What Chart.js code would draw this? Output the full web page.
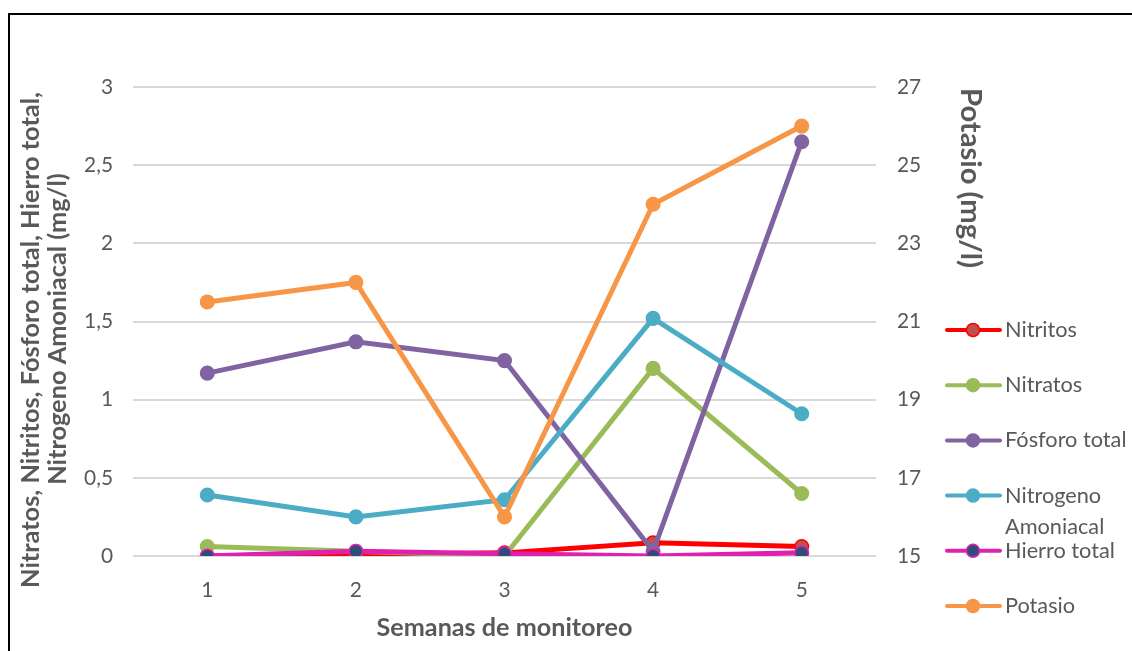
<!DOCTYPE html>
<html><head><meta charset="utf-8">
<script src="https://cdn.jsdelivr.net/npm/chart.js@4.4.0/dist/chart.umd.min.js"></script>
<style>
html,body{margin:0;padding:0;background:#fff;overflow:hidden}
#frame{position:absolute;left:8px;top:13px;width:1200px;height:700px;border:2px solid #000;box-sizing:border-box}
#c{position:absolute;left:0;top:0}
</style></head><body>
<div id="frame"></div>
<canvas id="c" width="1132" height="651"></canvas>
<script>
// ---- data ----
const weeks = ['1', '2', '3', '4', '5'];
const seriesNames = ['Nitritos', 'Nitratos', 'Fósforo total', 'Nitrogeno Amoniacal', 'Hierro total', 'Potasio'];
const nitritos = [0.00, 0.01, 0.02, 0.085, 0.06];
const nitratos = [0.06, 0.03, 0.00, 1.20, 0.40];
const fosforoTotal = [1.17, 1.37, 1.25, 0.03, 2.65];
const nitrogenoAmoniacal = [0.39, 0.25, 0.36, 1.52, 0.91];
const hierroTotal = [0.00, 0.03, 0.015, 0.00, 0.02];
const potasio = [21.5, 22.0, 16.0, 24.0, 26.0];
const leftTicks = [0, 0.5, 1, 1.5, 2, 2.5, 3];
const rightTicks = [15, 17, 19, 21, 23, 25, 27];
const leftTitle = ['Nitratos, Nitritos, Fósforo total, Hierro total,', 'Nitrogeno Amoniacal (mg/l)'];
const rightTitle = 'Potasio (mg/l)';
const xTitle = 'Semanas de monitoreo';

// ---- fonts ----
const FAM = 'Lato, "Open Sans", sans-serif';
const mctx = document.createElement('canvas').getContext('2d');
function fit(text, target, weight) {
  mctx.font = weight + ' 100px ' + FAM;
  return 100 * target / mctx.measureText(text).width;
}
const tickSize = fit('2,5', 29, 'normal');
const legendSize = fit('Nitritos', 72, 'normal');
const titleSize = fit(leftTitle[0], 496, 'bold');
const xTitleSize = fit(xTitle, 256, 'bold');
const rTitleSize = fit(rightTitle, 180, 'bold');
const GREY = '#595959';

// ---- styles ----
const styles = [
  {line: '#FF0000', fill: '#C0504D', border: '#FF0000', order: 5, axis: 'y'},
  {line: '#9BBB59', fill: '#9BBB59', border: '#9BBB59', order: 4, axis: 'y'},
  {line: '#8064A2', fill: '#8064A2', border: '#8064A2', order: 3, axis: 'y'},
  {line: '#4BACC6', fill: '#4BACC6', border: '#4BACC6', order: 2, axis: 'y'},
  {line: '#E020B0', fill: '#2F4D78', border: '#E020B0', order: 1, axis: 'y'},
  {line: '#F79646', fill: '#F79646', border: '#F79646', order: 0, axis: 'y1'}
];
const seriesData = [nitritos, nitratos, fosforoTotal, nitrogenoAmoniacal, hierroTotal, potasio];

const datasets = seriesNames.map((name, i) => ({
  label: name,
  data: seriesData[i],
  yAxisID: styles[i].axis,
  order: styles[i].order,
  borderColor: styles[i].line,
  backgroundColor: styles[i].fill,
  pointBackgroundColor: styles[i].fill,
  pointBorderColor: styles[i].border,
  pointBorderWidth: 1.5,
  pointRadius: 6.8,
  pointHoverRadius: 6.8,
  borderWidth: 5,
  tension: 0,
  fill: false
}));

const decor = {
  id: 'decor',
  afterDraw(chart) {
    const ctx = chart.ctx;
    ctx.save();
    ctx.fillStyle = GREY;
    ctx.textAlign = 'center';
    ctx.textBaseline = 'middle';
    ctx.font = 'bold ' + titleSize + 'px ' + FAM;
    [[31, 340], [58, 329]].forEach(([x, y], i) => {
      ctx.save(); ctx.translate(x, y); ctx.rotate(-Math.PI / 2);
      ctx.fillText(leftTitle[i], 0, 0); ctx.restore();
    });
    ctx.font = 'bold ' + rTitleSize + 'px ' + FAM;
    ctx.save(); ctx.translate(970, 178); ctx.rotate(Math.PI / 2);
    ctx.fillText(rightTitle, 0, 0); ctx.restore();
    ctx.font = 'bold ' + xTitleSize + 'px ' + FAM;
    ctx.fillText(xTitle, (chart.chartArea.left + chart.chartArea.right) / 2, 628);

    // legend
    ctx.font = legendSize + 'px ' + FAM;
    ctx.textAlign = 'left';
    chart.data.datasets.forEach((d, i) => {
      const y = 330 + i * 55.2;
      ctx.strokeStyle = d.borderColor;
      ctx.lineWidth = 4;
      ctx.lineCap = 'round';
      ctx.beginPath(); ctx.moveTo(947, y); ctx.lineTo(1000, y); ctx.stroke();
      ctx.beginPath(); ctx.arc(973, y, 6.5, 0, Math.PI * 2);
      ctx.fillStyle = d.pointBackgroundColor; ctx.fill();
      ctx.lineWidth = 1.5; ctx.strokeStyle = d.pointBorderColor; ctx.stroke();
      ctx.fillStyle = GREY;
      const words = d.label.split(' ');
      let lines = [d.label];
      if (ctx.measureText(d.label).width > 130) lines = [words[0], words.slice(1).join(' ')];
      lines.forEach((t, k) => ctx.fillText(t, 1005, y + k * 31));
    });
    ctx.restore();
  }
};

new Chart(document.getElementById('c'), {
  type: 'line',
  data: {labels: weeks, datasets},
  plugins: [decor],
  options: {
    responsive: false,
    devicePixelRatio: 1,
    animation: false,
    layout: {padding: {top: 87, left: 0, right: 0, bottom: 0}},
    plugins: {legend: {display: false}, tooltip: {enabled: false}},
    scales: {
      x: {
        offset: true,
        grid: {display: false, drawTicks: false},
        border: {display: false},
        ticks: {color: GREY, font: {size: tickSize, family: FAM}, padding: 22},
        afterFit: s => { s.height = 95; }
      },
      y: {
        position: 'left',
        min: leftTicks[0], max: leftTicks[leftTicks.length - 1],
        afterBuildTicks: s => { s.ticks = leftTicks.map(v => ({value: v})); },
        grid: {color: '#D9D9D9', lineWidth: 2, drawTicks: false},
        border: {display: false},
        ticks: {color: GREY, font: {size: tickSize, family: FAM}, padding: 20,
          callback: v => String(v).replace('.', ',')},
        afterFit: s => { s.width = 133; }
      },
      y1: {
        position: 'right',
        min: rightTicks[0], max: rightTicks[rightTicks.length - 1],
        afterBuildTicks: s => { s.ticks = rightTicks.map(v => ({value: v})); },
        grid: {display: false, drawTicks: false},
        border: {display: false},
        ticks: {color: GREY, font: {size: tickSize, family: FAM}, padding: 21},
        afterFit: s => { s.width = 256; }
      }
    }
  }
});
</script>
</body></html>
